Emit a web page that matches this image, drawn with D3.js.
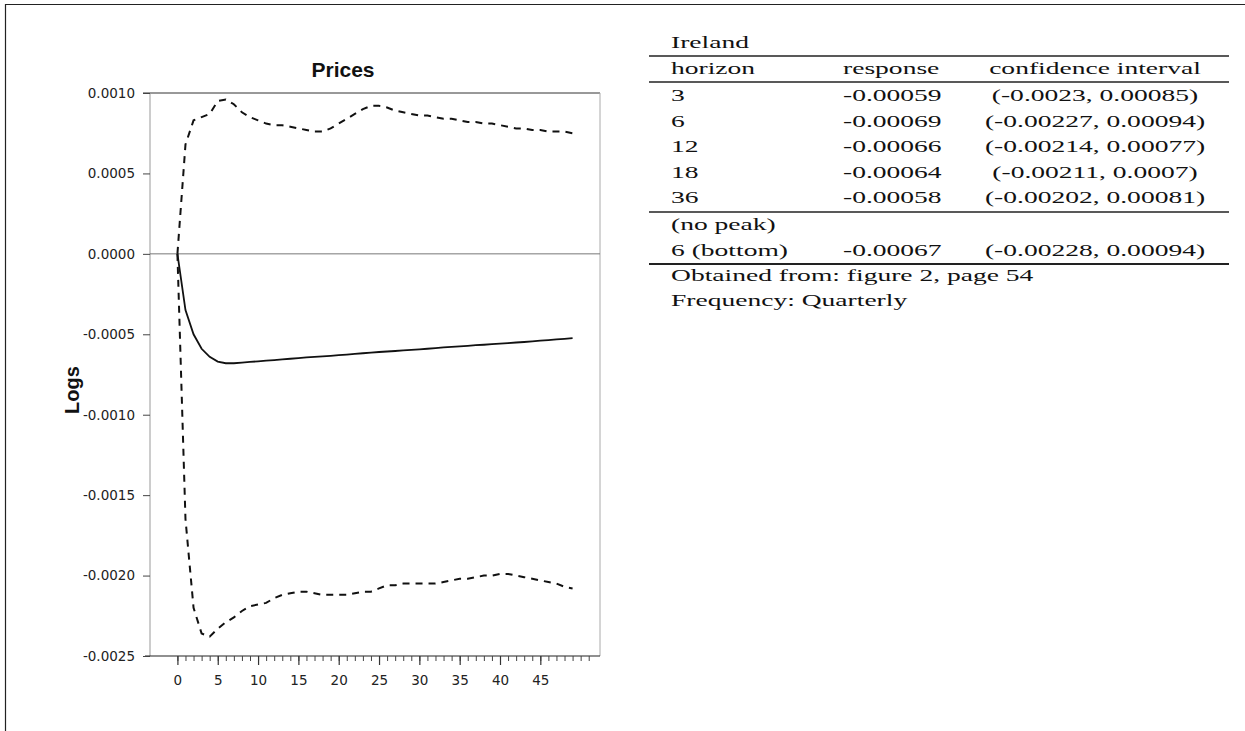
<!DOCTYPE html>
<html>
<head>
<meta charset="utf-8">
<script src="https://cdn.jsdelivr.net/npm/d3@7"></script>
<style>
  html, body { margin: 0; padding: 0; background: #fff; }
  svg { display: block; }
</style>
</head>
<body>
<svg id="chart" width="1245" height="731"></svg>
<script>
// ---------- data ----------
const horizons = [0,1,2,3,4,5,6,7,8,9,10,11,12,13,14,15,16,17,18,19,20,21,22,23,24,25,26,27,28,29,30,31,32,33,34,35,36,37,38,39,40,41,42,43,44,45,46,47,48,49];
const response = [0,-0.00035,-0.0005,-0.00059,-0.00064,-0.00067,-0.00068,-0.00068,-0.000676,-0.000672,
  -0.000668,-0.000664,-0.00066,-0.000656,-0.000652,-0.000648,-0.000644,-0.00064,-0.000637,-0.000634,
  -0.00063,-0.000626,-0.000622,-0.000618,-0.000614,-0.00061,-0.000607,-0.000604,-0.0006,-0.000597,
  -0.000594,-0.00059,-0.000586,-0.000582,-0.000578,-0.000575,-0.000572,-0.000568,-0.000565,-0.000561,
  -0.000558,-0.000555,-0.000551,-0.000548,-0.000544,-0.00054,-0.000536,-0.000532,-0.000528,-0.000524];
const upper = [0,0.00068,0.00083,0.00085,0.00087,0.00095,0.00096,0.00093,0.00088,0.00085,
  0.00083,0.00081,0.0008,0.0008,0.00079,0.00078,0.00077,0.00076,0.00076,0.00078,
  0.00081,0.00084,0.00087,0.0009,0.00092,0.00092,0.00091,0.00089,0.00088,0.00087,
  0.00086,0.00086,0.00085,0.00084,0.00084,0.00083,0.00082,0.00082,0.00081,0.00081,
  0.0008,0.00079,0.00078,0.00078,0.00077,0.00077,0.00076,0.00076,0.00076,0.00075];
const lower = [0,-0.00165,-0.0022,-0.00236,-0.00238,-0.00233,-0.00229,-0.00226,-0.00222,-0.00219,
  -0.00218,-0.00217,-0.00214,-0.00212,-0.00211,-0.0021,-0.0021,-0.00211,-0.00212,-0.00212,
  -0.00212,-0.00212,-0.00211,-0.0021,-0.0021,-0.00208,-0.00206,-0.00206,-0.00205,-0.00205,
  -0.00205,-0.00205,-0.00205,-0.00204,-0.00203,-0.00202,-0.00202,-0.00201,-0.002,-0.002,
  -0.00199,-0.00199,-0.002,-0.00201,-0.00202,-0.00203,-0.00204,-0.00205,-0.00207,-0.00208];

const yTicks = [0.001, 0.0005, 0, -0.0005, -0.001, -0.0015, -0.002, -0.0025];
const yTickLabels = ["0.0010", "0.0005", "0.0000", "-0.0005", "-0.0010", "-0.0015", "-0.0020", "-0.0025"];
const xTicks = [0, 5, 10, 15, 20, 25, 30, 35, 40, 45];
const xMinorTicks = [0,1,2,3,4,5,6,7,8,9,10,11,12,13,14,15,16,17,18,19,20,21,22,23,24,25,26,27,28,29,30,31,32,33,34,35,36,37,38,39,40,41,42,43,44,45,46,47,48,49,50,51];

const chartTitle = "Prices";
const yLabel = "Logs";

const tableTitle = "Ireland";
const tableHeader = ["horizon", "response", "confidence interval"];
const tableHorizons = ["3", "6", "12", "18", "36"];
const tableResponses = ["-0.00059", "-0.00069", "-0.00066", "-0.00064", "-0.00058"];
const tableIntervals = ["(-0.0023, 0.00085)", "(-0.00227, 0.00094)", "(-0.00214, 0.00077)", "(-0.00211, 0.0007)", "(-0.00202, 0.00081)"];
const peakLabel = "(no peak)";
const bottomRow = ["6 (bottom)", "-0.00067", "(-0.00228, 0.00094)"];
const notes = ["Obtained from: figure 2, page 54", "Frequency: Quarterly"];

// ---------- drawing ----------
const svg = d3.select("#chart");

// page frame (top and left edges)
svg.append("line").attr("x1", 5).attr("x2", 1245).attr("y1", 4.5).attr("y2", 4.5)
  .attr("stroke", "#222").attr("stroke-width", 1.2);
svg.append("line").attr("x1", 5.5).attr("x2", 5.5).attr("y1", 4).attr("y2", 731)
  .attr("stroke", "#222").attr("stroke-width", 1.2);

const x = d3.scaleLinear().domain([-3.4, 52.4]).range([150, 600]);
const y = d3.scaleLinear().domain([-0.0025, 0.001]).range([656, 93]);

// plot frame
svg.append("line").attr("x1", 143).attr("x2", 600).attr("y1", y(0.001)).attr("y2", y(0.001))
  .attr("stroke", "#333").attr("stroke-width", 1);
svg.append("line").attr("x1", 600).attr("x2", 600).attr("y1", y(0.001)).attr("y2", y(-0.0025))
  .attr("stroke", "#aaa").attr("stroke-width", 1);
svg.append("line").attr("x1", 150).attr("x2", 150).attr("y1", y(0.001)).attr("y2", y(-0.0025))
  .attr("stroke", "#999").attr("stroke-width", 1);
// zero line
svg.append("line").attr("x1", 150).attr("x2", 600).attr("y1", y(0)).attr("y2", y(0))
  .attr("stroke", "#777").attr("stroke-width", 1);
// bottom axis line
svg.append("line").attr("x1", 145).attr("x2", 600).attr("y1", y(-0.0025)).attr("y2", y(-0.0025))
  .attr("stroke", "#222").attr("stroke-width", 1.2);

// y axis
const yAxis = d3.axisLeft(y).tickValues(yTicks).tickSize(7).tickPadding(8)
  .tickFormat((d, i) => yTickLabels[i]);
const gy = svg.append("g").attr("transform", "translate(150,0)").call(yAxis);
gy.select(".domain").remove();
gy.selectAll(".tick line").attr("stroke", "#444");
gy.selectAll(".tick text").attr("font-family", "DejaVu Sans, sans-serif").attr("font-size", 13.5).attr("fill", "#222");

// x axis minor ticks
const gxm = svg.append("g").attr("transform", `translate(0,${y(-0.0025)})`)
  .call(d3.axisBottom(x).tickValues(xMinorTicks).tickSize(5).tickFormat(""));
gxm.select(".domain").remove();
gxm.selectAll(".tick line").attr("stroke", "#444");
// x axis major ticks
const gx = svg.append("g").attr("transform", `translate(0,${y(-0.0025)})`)
  .call(d3.axisBottom(x).tickValues(xTicks).tickSize(9).tickPadding(10));
gx.select(".domain").remove();
gx.selectAll(".tick line").attr("stroke", "#333").attr("stroke-width", 1.2);
gx.selectAll(".tick text").attr("font-family", "DejaVu Sans, sans-serif").attr("font-size", 13.5).attr("fill", "#222");

// lines
const line = d3.line().x((d, i) => x(horizons[i])).y(d => y(d));
svg.append("path").datum(upper).attr("d", line).attr("fill", "none")
  .attr("stroke", "#111").attr("stroke-width", 2).attr("stroke-dasharray", "7,6");
svg.append("path").datum(lower).attr("d", line).attr("fill", "none")
  .attr("stroke", "#111").attr("stroke-width", 2).attr("stroke-dasharray", "7,6");
svg.append("path").datum(response).attr("d", line).attr("fill", "none")
  .attr("stroke", "#111").attr("stroke-width", 1.8);

// title and y label
svg.append("text").attr("x", 343).attr("y", 77).attr("text-anchor", "middle")
  .attr("font-family", "Liberation Sans, Arial, sans-serif").attr("font-weight", "bold")
  .attr("font-size", 21).attr("fill", "#111").text(chartTitle);
svg.append("text").attr("transform", "translate(79,390) rotate(-90)").attr("text-anchor", "middle")
  .attr("font-family", "Liberation Sans, Arial, sans-serif").attr("font-weight", "bold")
  .attr("font-size", 20).attr("fill", "#111").text(yLabel);

// ---------- table ----------
const tbl = svg.append("g");
const sx = 1.62;
const fs = 17;
const col1 = 671, col2 = 843, col3 = 1095;
const ruleX1 = 649, ruleX2 = 1229;
function tText(txt, xx, yy, anchor) {
  tbl.append("text").attr("transform", `translate(${xx},${yy}) scale(${sx},1)`)
    .attr("text-anchor", anchor || "start")
    .attr("font-family", "Liberation Serif, Times New Roman, serif")
    .attr("font-size", fs).attr("fill", "#111").text(txt);
}
function rule(yy, w) {
  tbl.append("line").attr("x1", ruleX1).attr("x2", ruleX2).attr("y1", yy).attr("y2", yy)
    .attr("stroke", "#222").attr("stroke-width", w);
}
tText(tableTitle, col1, 48);
rule(56, 1.3);
tText(tableHeader[0], col1, 74);
tText(tableHeader[1], col2, 74);
tText(tableHeader[2], col3, 74, "middle");
rule(82, 1.3);
const rowY = [101, 126.5, 152, 177.5, 203];
tableHorizons.forEach((h, i) => {
  tText(h, col1, rowY[i]);
  tText(tableResponses[i], col2, rowY[i]);
  tText(tableIntervals[i], col3, rowY[i], "middle");
});
rule(212, 1.3);
tText(peakLabel, col1, 229.5);
tText(bottomRow[0], col1, 256);
tText(bottomRow[1], col2, 256);
tText(bottomRow[2], col3, 256, "middle");
rule(264, 1.8);
tText(notes[0], col1, 281);
tText(notes[1], col1, 306);
</script>
</body>
</html>
